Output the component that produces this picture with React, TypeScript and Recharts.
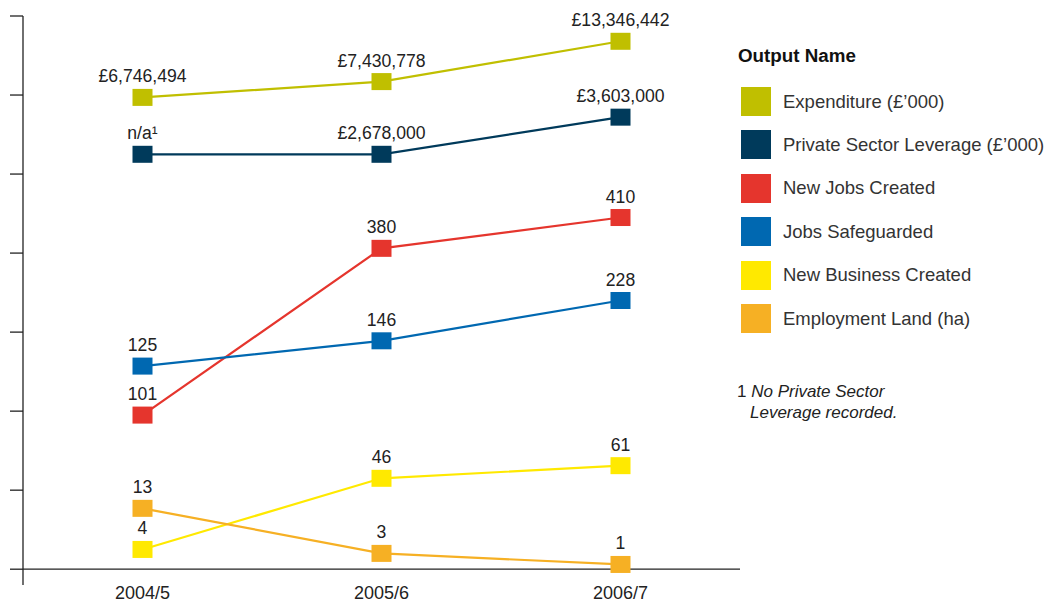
import { LineChart, Line, XAxis, YAxis, ReferenceLine, LabelList } from 'recharts';

const years = ['2004/5', '2005/6', '2006/7'];

// Plotted heights (the chart is schematic: one unit per y-tick)
const expenditurePos = [5.97, 6.17, 6.68];
const leveragePos = [5.25, 5.25, 5.72];
const newJobsPos = [1.95, 4.06, 4.45];
const safeguardedPos = [2.57, 2.89, 3.4];
const newBusinessPos = [0.25, 1.15, 1.31];
const landPos = [0.77, 0.2, 0.06];

const expenditureLabels = ['£6,746,494', '£7,430,778', '£13,346,442'];
const leverageLabels = ['n/a¹', '£2,678,000', '£3,603,000'];
const newJobsLabels = ['101', '380', '410'];
const safeguardedLabels = ['125', '146', '228'];
const newBusinessLabels = ['4', '46', '61'];
const landLabels = ['13', '3', '1'];

const yTicks = [0, 1, 2, 3, 4, 5, 6, 7];
const dividers = [0.99, 2.01];

const FONT = '"Liberation Sans", Arial, Helvetica, sans-serif';

const series = [
  { key: 'expenditure', name: 'Expenditure (£’000)', color: '#C0BF00', pos: expenditurePos, labels: expenditureLabels },
  { key: 'leverage', name: 'Private Sector Leverage (£’000)', color: '#003A5B', pos: leveragePos, labels: leverageLabels },
  { key: 'newJobs', name: 'New Jobs Created', color: '#E5352D', pos: newJobsPos, labels: newJobsLabels },
  { key: 'safeguarded', name: 'Jobs Safeguarded', color: '#0068B1', pos: safeguardedPos, labels: safeguardedLabels },
  { key: 'newBusiness', name: 'New Business Created', color: '#FFE900', pos: newBusinessPos, labels: newBusinessLabels },
  { key: 'land', name: 'Employment Land (ha)', color: '#F6B024', pos: landPos, labels: landLabels },
];

const data = years.map((year, i) => {
  const row: Record<string, string | number> = { year };
  series.forEach((s) => {
    row[s.key] = s.pos[i];
  });
  return row;
});

const squareDot = (color: string) => (props: any) => (
  <rect key={`${color}-${props.index}`} x={props.cx - 10} y={props.cy - 8.5} width={20} height={17} fill={color} />
);

const pointLabel = (labels: string[]) => (props: any) => (
  <text
    key={props.index}
    x={props.x}
    y={props.y - 15}
    textAnchor="middle"
    fontSize={17.6}
    fontFamily={FONT}
    fill="#222"
  >
    {labels[props.index]}
  </text>
);

export default function App() {
  return (
    <div style={{ position: 'absolute', left: 0, top: 0, width: 1048, height: 603, fontFamily: FONT, background: '#fff' }}>
      <LineChart width={1048} height={603} data={data} margin={{ top: 16, right: 308, left: 0, bottom: 0 }}>
        <XAxis
          dataKey="year"
          padding={{ left: 119.5, right: 119.5 }}
          axisLine={false}
          tickLine={false}
          tickSize={0}
          tickMargin={1}
          height={18}
          tick={{ fontSize: 18, fill: '#222', fontFamily: FONT }}
        />
        <XAxis xAxisId="div" type="number" domain={[0, 3]} hide />
        <YAxis
          domain={[-0.2, 7]}
          ticks={yTicks}
          width={23}
          tickSize={13}
          tickFormatter={() => ''}
          axisLine={{ stroke: '#222', strokeWidth: 1.3 }}
          tickLine={{ stroke: '#222', strokeWidth: 1.3 }}
        />
        <ReferenceLine y={0} stroke="#222" strokeWidth={1.3} />
        {dividers.map((d) => (
          <ReferenceLine
            key={d}
            xAxisId="div"
            segment={[{ x: d, y: 0 }, { x: d, y: 7.03 }]}
            stroke="#444"
            strokeDasharray="4 3"
          />
        ))}
        {series.map((s) => (
          <Line
            key={s.key}
            dataKey={s.key}
            name={s.name}
            stroke={s.color}
            strokeWidth={2.2}
            dot={squareDot(s.color)}
            activeDot={false}
            isAnimationActive={false}
          >
            <LabelList dataKey={s.key} content={pointLabel(s.labels)} />
          </Line>
        ))}
      </LineChart>

      <div style={{ position: 'absolute', left: 738, top: 45, fontSize: 18.8, fontWeight: 'bold', color: '#111' }}>
        Output Name
      </div>
      {series.map((s, i) => (
        <div
          key={s.key}
          style={{ position: 'absolute', left: 741, top: 87 + i * 43.4, height: 29, display: 'flex', alignItems: 'center' }}
        >
          <div style={{ width: 30, height: 29, background: s.color }} />
          <span style={{ marginLeft: 12, fontSize: 18.5, color: '#333', whiteSpace: 'nowrap' }}>{s.name}</span>
        </div>
      ))}
      <div style={{ position: 'absolute', left: 737, top: 381, fontSize: 17, color: '#222', lineHeight: '21px' }}>
        1 <i>No Private Sector</i>
        <br />
        <i style={{ marginLeft: 13 }}>Leverage recorded.</i>
      </div>
    </div>
  );
}
